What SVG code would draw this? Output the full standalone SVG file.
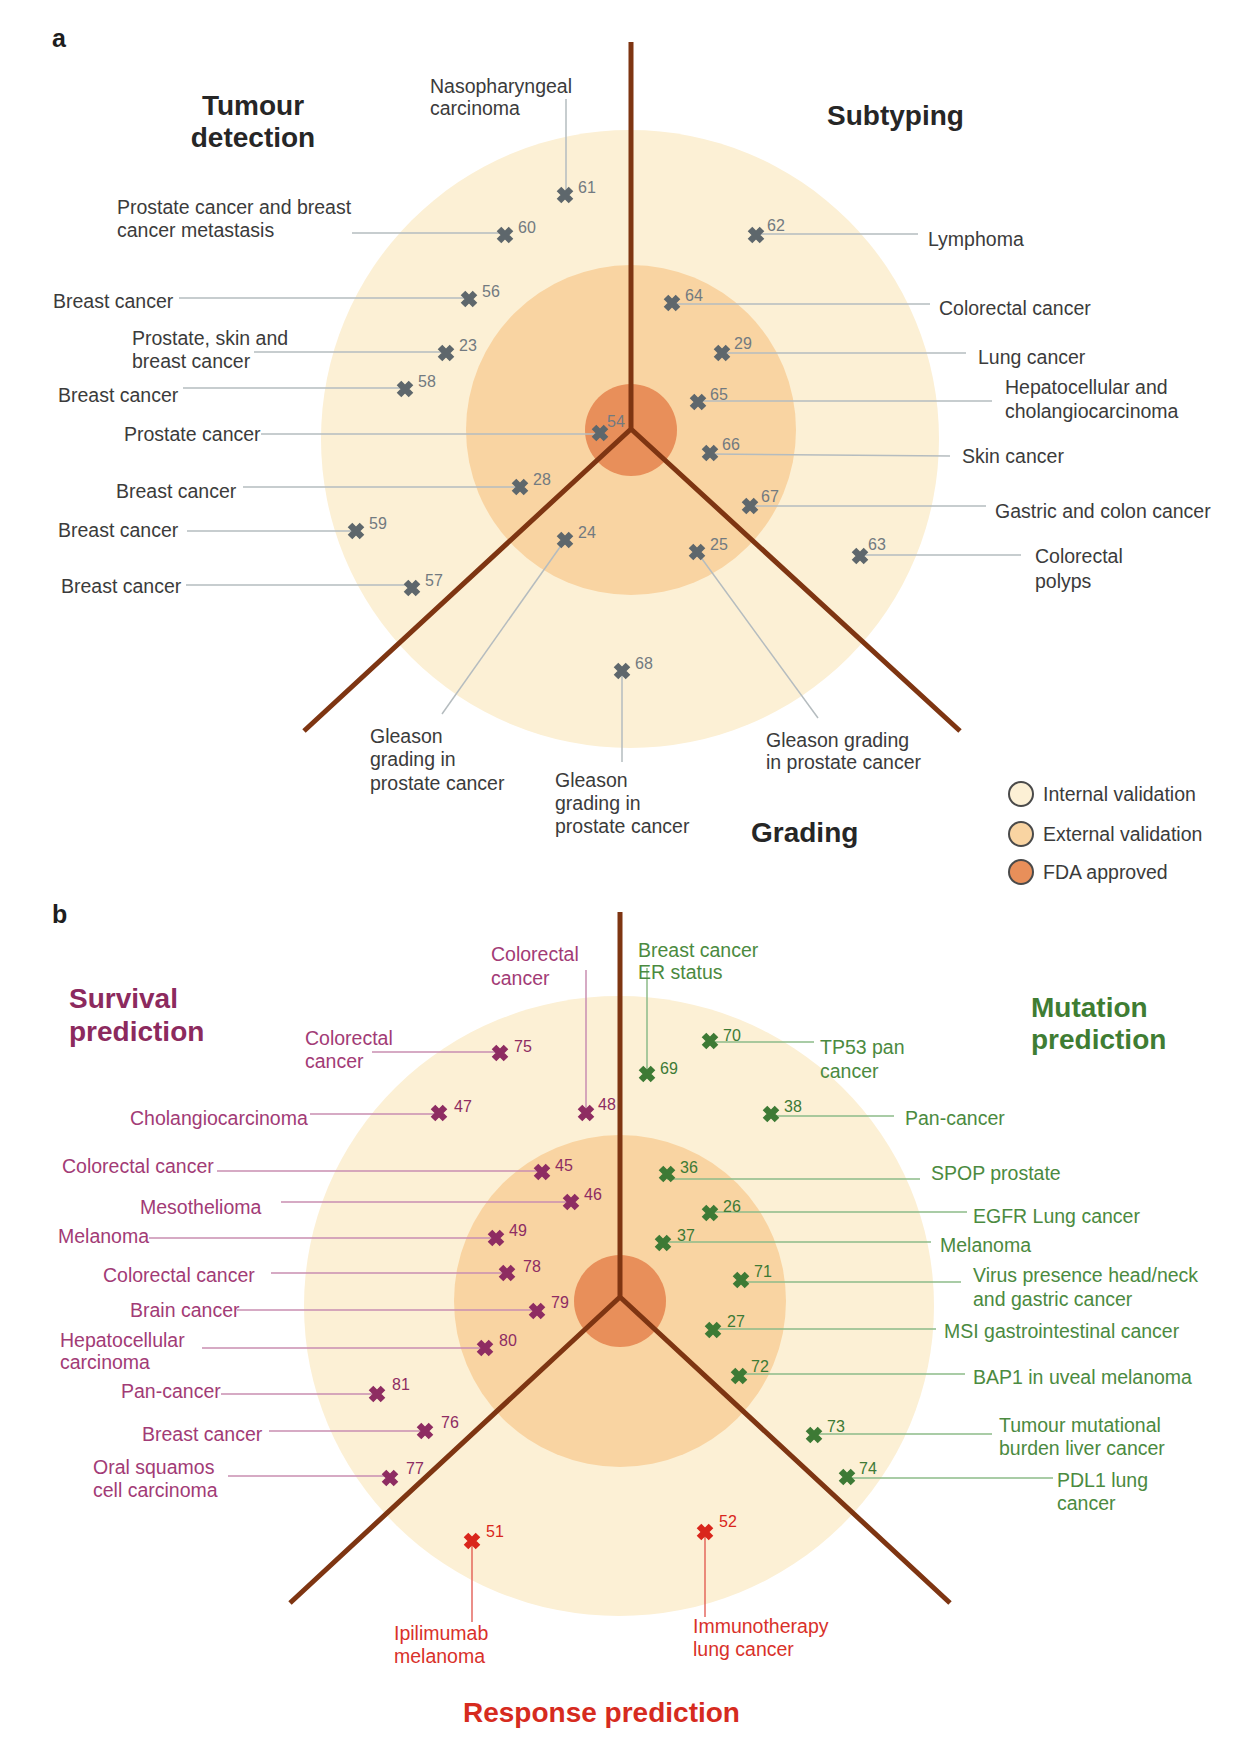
<svg xmlns="http://www.w3.org/2000/svg" xmlns:xlink="http://www.w3.org/1999/xlink" width="1237" height="1737" viewBox="0 0 1237 1737">
<style>
text{font-family:"Liberation Sans",Arial,sans-serif}
.lb{font-size:19.5px;fill:#3b3b3b}
.nm{font-size:16px;fill:#727a80}
.ttl{font-size:28px;font-weight:bold;fill:#262626}
.pl{font-weight:bold;font-size:25px;fill:#1e1e1e}
.ring1{fill:#FCF0D5}.ring2{fill:#F9D4A2}.ring3{fill:#E88F5A}
.axis{stroke:#7E3512;stroke-width:5;fill:none;stroke-linecap:butt}
.ld{stroke:#b5bcbf;stroke-width:1.5;fill:none}
.ldp{stroke:#c98eb0;stroke-width:1.5;fill:none}
.ldg{stroke:#8dbb88;stroke-width:1.5;fill:none}
.ldr{stroke:#e0524a;stroke-width:1.3;fill:none}
.mg{color:#5E676C}.mp{color:#8E2C62}.mgr{color:#3D7A35}.mr{color:#D9261C}
.lp{font-size:19.5px;fill:#A23B76}.np{font-size:16px;fill:#8E2C62}
.lg{font-size:19.5px;fill:#4B8A40}.ng{font-size:16px;fill:#3D7A35}
.lr{font-size:19.5px;fill:#D9312A}.nr{font-size:16px;fill:#D9261C}
.leg{stroke:#4a4a4a;stroke-width:2}
</style>
<defs>
<path id="xm" d="M-6,-6L6,6M-6,6L6,-6" stroke="currentColor" stroke-width="6.5" fill="none"/>
</defs>
<rect width="1237" height="1737" fill="#ffffff"/>

<g id="panel-a-rings">
<circle class="ring1" cx="630" cy="439" r="309"/>
<circle class="ring2" cx="631" cy="430" r="165"/>
<circle class="ring3" cx="631" cy="430" r="46"/>
</g>
<g id="panel-b-rings">
<ellipse class="ring1" cx="619" cy="1306" rx="315" ry="310"/>
<circle class="ring2" cx="620" cy="1301" r="166"/>
<circle class="ring3" cx="620" cy="1301" r="46"/>
</g>

<g id="connectors">
<path class="ld" d="M566,99V195"/>
<path class="ld" d="M352,233H505"/>
<path class="ld" d="M179,298H469"/>
<path class="ld" d="M254,352H446"/>
<path class="ld" d="M183,388H405"/>
<path class="ld" d="M261,434H600"/>
<path class="ld" d="M243,487H520"/>
<path class="ld" d="M187,531H356"/>
<path class="ld" d="M186,585H412"/>
<path class="ld" d="M565,540L442,714"/>
<path class="ld" d="M622,671V762"/>
<path class="ld" d="M697,552L818,718"/>
<path class="ld" d="M756,234H918"/>
<path class="ld" d="M672,304H930"/>
<path class="ld" d="M722,353H966"/>
<path class="ld" d="M698,401H992"/>
<path class="ld" d="M710,454L950,456"/>
<path class="ld" d="M750,506H986"/>
<path class="ld" d="M860,555H1021"/>
<path class="ldp" d="M372,1052H500"/>
<path class="ldp" d="M586,970V1113"/>
<path class="ldp" d="M310,1114H439"/>
<path class="ldp" d="M217,1171H542"/>
<path class="ldp" d="M281,1202H571"/>
<path class="ldp" d="M149,1238H496"/>
<path class="ldp" d="M271,1273H507"/>
<path class="ldp" d="M237,1310H537"/>
<path class="ldp" d="M202,1348H485"/>
<path class="ldp" d="M221,1394H377"/>
<path class="ldp" d="M269,1431H425"/>
<path class="ldp" d="M228,1476H390"/>
<path class="ldg" d="M647,968V1074"/>
<path class="ldg" d="M710,1042H814"/>
<path class="ldg" d="M771,1116H894"/>
<path class="ldg" d="M667,1179H920"/>
<path class="ldg" d="M710,1212H967"/>
<path class="ldg" d="M663,1242H931"/>
<path class="ldg" d="M741,1282H961"/>
<path class="ldg" d="M713,1329H936"/>
<path class="ldg" d="M739,1374H965"/>
<path class="ldg" d="M814,1434H992"/>
<path class="ldg" d="M847,1478H1053"/>
<path class="ldr" d="M472,1541V1622"/>
<path class="ldr" d="M705,1532V1617"/>
</g>

<g id="axes">
<path class="axis" d="M631,42V429M631,429L304,731M631,429L960,731"/>
<path class="axis" d="M620,912V1297M620,1297L290,1603M620,1297L950,1603"/>
</g>

<g id="titles">
<text class="pl" x="52" y="47">a</text>
<text class="pl" x="52" y="923">b</text>
<text class="ttl" x="253" y="115" text-anchor="middle">Tumour</text>
<text class="ttl" x="253" y="147" text-anchor="middle">detection</text>
<text class="ttl" x="827" y="125">Subtyping</text>
<text class="ttl" x="751" y="842">Grading</text>
<text class="ttl" x="69" y="1008" style="fill:#8C2A5E">Survival</text>
<text class="ttl" x="69" y="1041" style="fill:#8C2A5E">prediction</text>
<text class="ttl" x="1031" y="1017" style="fill:#3F7D33">Mutation</text>
<text class="ttl" x="1031" y="1049" style="fill:#3F7D33">prediction</text>
<text class="ttl" x="463" y="1722" style="fill:#D62B1E">Response prediction</text>
</g>

<g id="legend">
<circle class="leg" cx="1021" cy="794" r="12" fill="#FCF0D5"/>
<text class="lb" x="1043" y="801">Internal validation</text>
<circle class="leg" cx="1021" cy="834" r="12" fill="#F9D4A2"/>
<text class="lb" x="1043" y="841">External validation</text>
<circle class="leg" cx="1021" cy="872" r="12" fill="#E88F5A"/>
<text class="lb" x="1043" y="879">FDA approved</text>
</g>

<g id="n61"><use xlink:href="#xm" x="565" y="195" class="mg"/><text class="nm" x="578" y="193">61</text><text class="lb" x="430" y="93">Nasopharyngeal</text><text class="lb" x="430" y="115">carcinoma</text></g>
<g id="n60"><use xlink:href="#xm" x="505" y="235" class="mg"/><text class="nm" x="518" y="233">60</text><text class="lb" x="117" y="214">Prostate cancer and breast</text><text class="lb" x="117" y="237">cancer metastasis</text></g>
<g id="n56"><use xlink:href="#xm" x="469" y="299" class="mg"/><text class="nm" x="482" y="297">56</text><text class="lb" x="53" y="308">Breast cancer</text></g>
<g id="n23"><use xlink:href="#xm" x="446" y="353" class="mg"/><text class="nm" x="459" y="351">23</text><text class="lb" x="132" y="345">Prostate, skin and</text><text class="lb" x="132" y="368">breast cancer</text></g>
<g id="n58"><use xlink:href="#xm" x="405" y="389" class="mg"/><text class="nm" x="418" y="387">58</text><text class="lb" x="58" y="402">Breast cancer</text></g>
<g id="n54"><use xlink:href="#xm" x="600" y="433" class="mg"/><text class="nm" x="607" y="427">54</text><text class="lb" x="124" y="441">Prostate cancer</text></g>
<g id="n28"><use xlink:href="#xm" x="520" y="487" class="mg"/><text class="nm" x="533" y="485">28</text><text class="lb" x="116" y="498">Breast cancer</text></g>
<g id="n59"><use xlink:href="#xm" x="356" y="531" class="mg"/><text class="nm" x="369" y="529">59</text><text class="lb" x="58" y="537">Breast cancer</text></g>
<g id="n57"><use xlink:href="#xm" x="412" y="588" class="mg"/><text class="nm" x="425" y="586">57</text><text class="lb" x="61" y="593">Breast cancer</text></g>
<g id="n24"><use xlink:href="#xm" x="565" y="540" class="mg"/><text class="nm" x="578" y="538">24</text><text class="lb" x="370" y="743">Gleason</text><text class="lb" x="370" y="766">grading in</text><text class="lb" x="370" y="790">prostate cancer</text></g>
<g id="n68"><use xlink:href="#xm" x="622" y="671" class="mg"/><text class="nm" x="635" y="669">68</text><text class="lb" x="555" y="787">Gleason</text><text class="lb" x="555" y="810">grading in</text><text class="lb" x="555" y="833">prostate cancer</text></g>
<g id="n25"><use xlink:href="#xm" x="697" y="552" class="mg"/><text class="nm" x="710" y="550">25</text><text class="lb" x="766" y="747">Gleason grading</text><text class="lb" x="766" y="769">in prostate cancer</text></g>
<g id="n62"><use xlink:href="#xm" x="756" y="235" class="mg"/><text class="nm" x="767" y="231">62</text><text class="lb" x="928" y="246">Lymphoma</text></g>
<g id="n64"><use xlink:href="#xm" x="672" y="303" class="mg"/><text class="nm" x="685" y="301">64</text><text class="lb" x="939" y="315">Colorectal cancer</text></g>
<g id="n29"><use xlink:href="#xm" x="722" y="353" class="mg"/><text class="nm" x="734" y="349">29</text><text class="lb" x="978" y="364">Lung cancer</text></g>
<g id="n65"><use xlink:href="#xm" x="698" y="402" class="mg"/><text class="nm" x="710" y="400">65</text><text class="lb" x="1005" y="394">Hepatocellular and</text><text class="lb" x="1005" y="418">cholangiocarcinoma</text></g>
<g id="n66"><use xlink:href="#xm" x="710" y="453" class="mg"/><text class="nm" x="722" y="450">66</text><text class="lb" x="962" y="463">Skin cancer</text></g>
<g id="n67"><use xlink:href="#xm" x="750" y="506" class="mg"/><text class="nm" x="761" y="502">67</text><text class="lb" x="995" y="518">Gastric and colon cancer</text></g>
<g id="n63"><use xlink:href="#xm" x="860" y="556" class="mg"/><text class="nm" x="868" y="550">63</text><text class="lb" x="1035" y="563">Colorectal</text><text class="lb" x="1035" y="588">polyps</text></g>

<g id="n75"><use xlink:href="#xm" x="500" y="1053" class="mp"/><text class="np" x="514" y="1052">75</text><text class="lp" x="305" y="1045">Colorectal</text><text class="lp" x="305" y="1068">cancer</text></g>
<g id="n48"><use xlink:href="#xm" x="586" y="1113" class="mp"/><text class="np" x="598" y="1110">48</text><text class="lp" x="491" y="961">Colorectal</text><text class="lp" x="491" y="985">cancer</text></g>
<g id="n47"><use xlink:href="#xm" x="439" y="1113" class="mp"/><text class="np" x="454" y="1112">47</text><text class="lp" x="130" y="1125">Cholangiocarcinoma</text></g>
<g id="n45"><use xlink:href="#xm" x="542" y="1172" class="mp"/><text class="np" x="555" y="1171">45</text><text class="lp" x="62" y="1173">Colorectal cancer</text></g>
<g id="n46"><use xlink:href="#xm" x="571" y="1202" class="mp"/><text class="np" x="584" y="1200">46</text><text class="lp" x="140" y="1214">Mesothelioma</text></g>
<g id="n49"><use xlink:href="#xm" x="496" y="1238" class="mp"/><text class="np" x="509" y="1236">49</text><text class="lp" x="58" y="1243">Melanoma</text></g>
<g id="n78"><use xlink:href="#xm" x="507" y="1273" class="mp"/><text class="np" x="523" y="1272">78</text><text class="lp" x="103" y="1282">Colorectal cancer</text></g>
<g id="n79"><use xlink:href="#xm" x="537" y="1311" class="mp"/><text class="np" x="551" y="1308">79</text><text class="lp" x="130" y="1317">Brain cancer</text></g>
<g id="n80"><use xlink:href="#xm" x="485" y="1348" class="mp"/><text class="np" x="499" y="1346">80</text><text class="lp" x="60" y="1347">Hepatocellular</text><text class="lp" x="60" y="1369">carcinoma</text></g>
<g id="n81"><use xlink:href="#xm" x="377" y="1394" class="mp"/><text class="np" x="392" y="1390">81</text><text class="lp" x="121" y="1398">Pan-cancer</text></g>
<g id="n76"><use xlink:href="#xm" x="425" y="1431" class="mp"/><text class="np" x="441" y="1428">76</text><text class="lp" x="142" y="1441">Breast cancer</text></g>
<g id="n77"><use xlink:href="#xm" x="390" y="1478" class="mp"/><text class="np" x="406" y="1474">77</text><text class="lp" x="93" y="1474">Oral squamos</text><text class="lp" x="93" y="1497">cell carcinoma</text></g>

<g id="n69"><use xlink:href="#xm" x="647" y="1074" class="mgr"/><text class="ng" x="660" y="1074">69</text><text class="lg" x="638" y="957">Breast cancer</text><text class="lg" x="638" y="979">ER status</text></g>
<g id="n70"><use xlink:href="#xm" x="710" y="1041" class="mgr"/><text class="ng" x="723" y="1041">70</text><text class="lg" x="820" y="1054">TP53 pan</text><text class="lg" x="820" y="1078">cancer</text></g>
<g id="n38"><use xlink:href="#xm" x="771" y="1114" class="mgr"/><text class="ng" x="784" y="1112">38</text><text class="lg" x="905" y="1125">Pan-cancer</text></g>
<g id="n36"><use xlink:href="#xm" x="667" y="1174" class="mgr"/><text class="ng" x="680" y="1173">36</text><text class="lg" x="931" y="1180">SPOP prostate</text></g>
<g id="n26"><use xlink:href="#xm" x="710" y="1213" class="mgr"/><text class="ng" x="723" y="1212">26</text><text class="lg" x="973" y="1223">EGFR Lung cancer</text></g>
<g id="n37"><use xlink:href="#xm" x="663" y="1243" class="mgr"/><text class="ng" x="677" y="1241">37</text><text class="lg" x="940" y="1252">Melanoma</text></g>
<g id="n71"><use xlink:href="#xm" x="741" y="1280" class="mgr"/><text class="ng" x="754" y="1277">71</text><text class="lg" x="973" y="1282">Virus presence head/neck</text><text class="lg" x="973" y="1306">and gastric cancer</text></g>
<g id="n27"><use xlink:href="#xm" x="713" y="1330" class="mgr"/><text class="ng" x="727" y="1327">27</text><text class="lg" x="944" y="1338">MSI gastrointestinal cancer</text></g>
<g id="n72"><use xlink:href="#xm" x="739" y="1376" class="mgr"/><text class="ng" x="751" y="1372">72</text><text class="lg" x="973" y="1384">BAP1 in uveal melanoma</text></g>
<g id="n73"><use xlink:href="#xm" x="814" y="1435" class="mgr"/><text class="ng" x="827" y="1432">73</text><text class="lg" x="999" y="1432">Tumour mutational</text><text class="lg" x="999" y="1455">burden liver cancer</text></g>
<g id="n74"><use xlink:href="#xm" x="847" y="1477" class="mgr"/><text class="ng" x="859" y="1474">74</text><text class="lg" x="1057" y="1487">PDL1 lung</text><text class="lg" x="1057" y="1510">cancer</text></g>

<g id="n51"><use xlink:href="#xm" x="472" y="1541" class="mr"/><text class="nr" x="486" y="1537">51</text><text class="lr" x="394" y="1640">Ipilimumab</text><text class="lr" x="394" y="1663">melanoma</text></g>
<g id="n52"><use xlink:href="#xm" x="705" y="1532" class="mr"/><text class="nr" x="719" y="1527">52</text><text class="lr" x="693" y="1633">Immunotherapy</text><text class="lr" x="693" y="1656">lung cancer</text></g>
</svg>
